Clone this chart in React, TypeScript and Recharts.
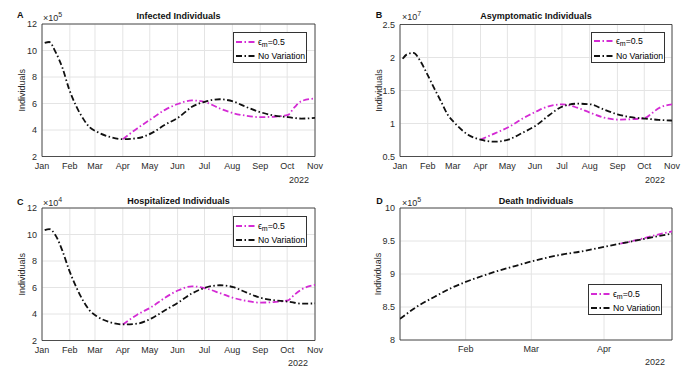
import React from "react";
import {
  LineChart,
  Line,
  XAxis,
  YAxis,
  CartesianGrid,
  ReferenceArea,
  Legend,
} from "recharts";

const FONT = '"Liberation Sans", Arial, Helvetica, sans-serif';
const MAGENTA = "#d42bd4";
const BLACK = "#111111";
const DASH = "6 2.5 1.5 2.5";
const TEXT = "#2b2b2b";

// x axis: day of year 2022 (Jan 1 = 0)
const monthLabels = ["Jan", "Feb", "Mar", "Apr", "May", "Jun", "Jul", "Aug", "Sep", "Oct", "Nov"];
const monthTicks = [0, 31, 59, 90, 120, 151, 181, 212, 243, 273, 304];
const deathLabels = ["Feb", "Mar", "Apr"];
const deathTicks = [31, 59, 90];

const days = [3, 8, 15, 23, 30, 38, 46, 53, 61, 76, 90, 106, 122, 137, 152, 167, 182, 198, 213, 228, 243, 258, 274, 281, 289, 304];

// Infected (x10^5)
const infectedBase = [10.57, 10.64, 9.9, 8.64, 7.12, 5.81, 4.84, 4.21, 3.87, 3.47, 3.31, 3.38, 3.76, 4.4, 4.95, 5.75, 6.15, 6.32, 6.15, 5.72, 5.35, 5.1, 4.97, 4.91, 4.86, 4.92];
const infectedEps = [null, null, null, null, null, null, null, null, null, null, 3.31, 4.12, 4.85, 5.52, 5.98, 6.23, 6.1, 5.62, 5.27, 5.07, 4.97, 5.0, 5.15, 5.7, 6.18, 6.38];

// Asymptomatic (x10^7)
const asymBase = [1.98, 2.05, 2.07, 1.94, 1.76, 1.54, 1.33, 1.14, 1.01, 0.83, 0.755, 0.725, 0.76, 0.86, 0.97, 1.13, 1.26, 1.3, 1.29, 1.21, 1.14, 1.095, 1.075, 1.065, 1.055, 1.045];
const asymEps = [null, null, null, null, null, null, null, null, null, null, 0.755, 0.85, 0.95, 1.075, 1.18, 1.265, 1.29, 1.24, 1.16, 1.09, 1.06, 1.065, 1.085, 1.15, 1.23, 1.29];

// Hospitalized (x10^4)
const hospBase = [10.33, 10.41, 9.95, 8.72, 7.35, 6.05, 4.98, 4.27, 3.83, 3.37, 3.21, 3.27, 3.67, 4.28, 4.88, 5.55, 5.99, 6.17, 6.03, 5.61, 5.23, 5.04, 4.93, 4.85, 4.78, 4.8];
const hospEps = [null, null, null, null, null, null, null, null, null, null, 3.21, 3.95, 4.53, 5.23, 5.79, 6.09, 5.94, 5.58, 5.22, 4.98, 4.86, 4.9, 5.03, 5.45, 5.85, 6.2];

// Death (x10^5)
const deathDays = [3, 10, 18, 25, 31, 38, 45, 52, 59, 66, 73, 80, 90, 97, 104, 111, 119];
const deathBase = [8.32, 8.5, 8.66, 8.79, 8.88, 8.97, 9.05, 9.12, 9.19, 9.25, 9.3, 9.34, 9.41, 9.46, 9.51, 9.56, 9.61];
const deathEps = [null, null, null, null, null, null, null, null, null, null, null, null, null, 9.46, 9.515, 9.58, 9.645];

const toRows = (x: number[], base: (number | null)[], eps: (number | null)[]) =>
  x.map((d, i) => ({ day: d, base: base[i], eps: eps[i] }));

const LegendBox = () => (
  <div
    style={{
      width: 74,
      height: 31,
      boxSizing: "border-box",
      border: "1px solid #333",
      background: "#fff",
      fontFamily: FONT,
      fontSize: 8.7,
      color: "#000",
      paddingTop: 1,
      whiteSpace: "nowrap",
    }}
  >
    <div style={{ display: "flex", alignItems: "center", height: 15 }}>
      <svg width={22} height={4} style={{ marginLeft: 1, flexShrink: 0 }}>
        <line x1={1} y1={2} x2={21} y2={2} stroke={MAGENTA} strokeWidth={1.8} strokeDasharray={DASH} />
      </svg>
      <span style={{ marginLeft: 1 }}>
        ϵ<span style={{ fontSize: 7, position: "relative", top: 2 }}>m</span>=0.5
      </span>
    </div>
    <div style={{ display: "flex", alignItems: "center", height: 14 }}>
      <svg width={22} height={4} style={{ marginLeft: 1, flexShrink: 0 }}>
        <line x1={1} y1={2} x2={21} y2={2} stroke={BLACK} strokeWidth={1.8} strokeDasharray={DASH} />
      </svg>
      <span style={{ marginLeft: 1 }}>No Variation</span>
    </div>
  </div>
);

interface PanelProps {
  left: number;
  top: number;
  w: number;
  h: number;
  plot: { left: number; right: number; top: number; bottom: number };
  rows: any[];
  xDomain: [number, number];
  xTicks: number[];
  xLabels: string[];
  yDomain: [number, number];
  yTicks: number[];
  title: string;
  titlePos: [number, number];
  letter: string;
  letterPos: [number, number];
  exp: string;
  expPos: [number, number];
  yearPos: [number, number];
  yLabelX: number;
  legendPos: [number, number];
}

const Panel: React.FC<PanelProps> = (p) => {
  const yAxisW = p.plot.left;
  const xAxisH = p.h - p.plot.bottom;
  return (
    <div style={{ position: "absolute", left: p.left, top: p.top, width: p.w, height: p.h }}>
      <LineChart
        width={p.w}
        height={p.h}
        data={p.rows}
        margin={{ top: p.plot.top, right: p.w - p.plot.right, bottom: 0, left: 0 }}
      >
        <CartesianGrid stroke="#e4e4e4" />
        <XAxis
          type="number"
          dataKey="day"
          domain={p.xDomain}
          ticks={p.xTicks}
          interval={0}
          allowDataOverflow
          height={xAxisH}
          tickLine={false}
          axisLine={false}
          tickSize={0}
          tickMargin={6}
          tick={{ fontSize: 9, fill: TEXT, fontFamily: FONT }}
          tickFormatter={(v: number) => p.xLabels[p.xTicks.indexOf(v)] ?? ""}
        />
        <YAxis
          type="number"
          domain={p.yDomain}
          ticks={p.yTicks}
          interval={0}
          allowDataOverflow
          width={yAxisW}
          tickLine={false}
          axisLine={false}
          tickSize={0}
          tickMargin={5}
          tick={{ fontSize: 9, fill: TEXT, fontFamily: FONT }}
          label={{
            content: (lp: any) => {
              const vb = lp.viewBox || {};
              const cy = (vb.y ?? p.plot.top) + (vb.height ?? 0) / 2;
              return (
                <text
                  x={p.yLabelX}
                  y={cy}
                  dy="0.35em"
                  textAnchor="middle"
                  transform={`rotate(-90, ${p.yLabelX}, ${cy})`}
                  fontSize={9}
                  fill={TEXT}
                  fontFamily={FONT}
                >
                  Individuals
                </text>
              );
            },
          }}
        />
        <ReferenceArea
          x1={p.xDomain[0]}
          x2={p.xDomain[1]}
          y1={p.yDomain[0]}
          y2={p.yDomain[1]}
          fill="none"
          stroke="#262626"
          strokeWidth={0.8}
          ifOverflow="visible"
        />
        <Legend
          layout="horizontal"
          verticalAlign="middle"
          align="center"
          content={() => <LegendBox />}
          wrapperStyle={{ left: p.legendPos[0], top: p.legendPos[1], width: 74, height: 31 }}
        />
        <Line
          type="monotone"
          dataKey="eps"
          name="ϵm=0.5"
          stroke={MAGENTA}
          strokeWidth={1.8}
          strokeDasharray={DASH}
          dot={false}
          activeDot={false}
          isAnimationActive={false}
        />
        <Line
          type="monotone"
          dataKey="base"
          name="No Variation"
          stroke={BLACK}
          strokeWidth={1.8}
          strokeDasharray={DASH}
          dot={false}
          activeDot={false}
          isAnimationActive={false}
        />
      </LineChart>
      <div
        style={{
          position: "absolute",
          left: p.titlePos[0] - 100,
          top: p.titlePos[1] - 4.4,
          width: 200,
          textAlign: "center",
          fontSize: 9,
          lineHeight: "9px",
          fontWeight: "bold",
          color: "#111",
          fontFamily: FONT,
        }}
      >
        {p.title}
      </div>
      <div
        style={{
          position: "absolute",
          left: p.letterPos[0] - 3,
          top: p.letterPos[1] - 4.4,
          fontSize: 9,
          lineHeight: "9px",
          fontWeight: "bold",
          color: "#111",
          fontFamily: FONT,
        }}
      >
        {p.letter}
      </div>
      <div
        style={{
          position: "absolute",
          left: p.expPos[0],
          top: p.expPos[1] - 4.4,
          fontSize: 9,
          lineHeight: "9px",
          color: TEXT,
          fontFamily: FONT,
          whiteSpace: "nowrap",
        }}
      >
        ×10<span style={{ fontSize: 7, position: "relative", top: -4 }}>{p.exp}</span>
      </div>
      <div
        style={{
          position: "absolute",
          left: p.yearPos[0] - 20,
          top: p.yearPos[1] - 4.4,
          width: 40,
          textAlign: "center",
          fontSize: 9,
          lineHeight: "9px",
          color: TEXT,
          fontFamily: FONT,
        }}
      >
        2022
      </div>
    </div>
  );
};

const App: React.FC = () => {
  return (
    <div
      style={{
        position: "absolute",
        left: 0,
        top: 0,
        width: 693,
        height: 376,
        background: "#fff",
        fontFamily: FONT,
        overflow: "hidden",
      }}
    >
      <Panel
        left={0}
        top={0}
        w={346}
        h={188}
        plot={{ left: 42, right: 315, top: 24, bottom: 156.5 }}
        rows={toRows(days, infectedBase, infectedEps)}
        xDomain={[0, 304]}
        xTicks={monthTicks}
        xLabels={monthLabels}
        yDomain={[2, 12]}
        yTicks={[2, 4, 6, 8, 10, 12]}
        title="Infected Individuals"
        titlePos={[178.5, 16.5]}
        letter="A"
        letterPos={[20, 15.7]}
        exp="5"
        expPos={[43, 18.5]}
        yearPos={[299, 180]}
        yLabelX={22.3}
        legendPos={[233, 32]}
      />
      <Panel
        left={346}
        top={0}
        w={347}
        h={188}
        plot={{ left: 54, right: 326, top: 24.5, bottom: 156.5 }}
        rows={toRows(days, asymBase, asymEps)}
        xDomain={[0, 304]}
        xTicks={monthTicks}
        xLabels={monthLabels}
        yDomain={[0.5, 2.5]}
        yTicks={[0.5, 1, 1.5, 2, 2.5]}
        title="Asymptomatic Individuals"
        titlePos={[190, 16.5]}
        letter="B"
        letterPos={[32.7, 15]}
        exp="7"
        expPos={[56, 17.5]}
        yearPos={[309, 180]}
        yLabelX={33.3}
        legendPos={[245, 31.7]}
      />
      <Panel
        left={0}
        top={188}
        w={346}
        h={188}
        plot={{ left: 42, right: 315, top: 20, bottom: 152.5 }}
        rows={toRows(days, hospBase, hospEps)}
        xDomain={[0, 304]}
        xTicks={monthTicks}
        xLabels={monthLabels}
        yDomain={[2, 12]}
        yTicks={[2, 4, 6, 8, 10, 12]}
        title="Hospitalized Individuals"
        titlePos={[178.5, 13]}
        letter="C"
        letterPos={[20, 14.5]}
        exp="4"
        expPos={[43, 15]}
        yearPos={[298, 175]}
        yLabelX={21.7}
        legendPos={[233, 28.3]}
      />
      <Panel
        left={346}
        top={188}
        w={347}
        h={188}
        plot={{ left: 54, right: 326, top: 20, bottom: 152 }}
        rows={toRows(deathDays, deathBase, deathEps)}
        xDomain={[3, 119]}
        xTicks={deathTicks}
        xLabels={deathLabels}
        yDomain={[8, 10]}
        yTicks={[8, 8.5, 9, 9.5, 10]}
        title="Death Individuals"
        titlePos={[190, 13]}
        letter="D"
        letterPos={[33.3, 13.3]}
        exp="5"
        expPos={[56, 15]}
        yearPos={[309, 174]}
        yLabelX={31.7}
        legendPos={[242, 96]}
      />
    </div>
  );
};

export default App;
